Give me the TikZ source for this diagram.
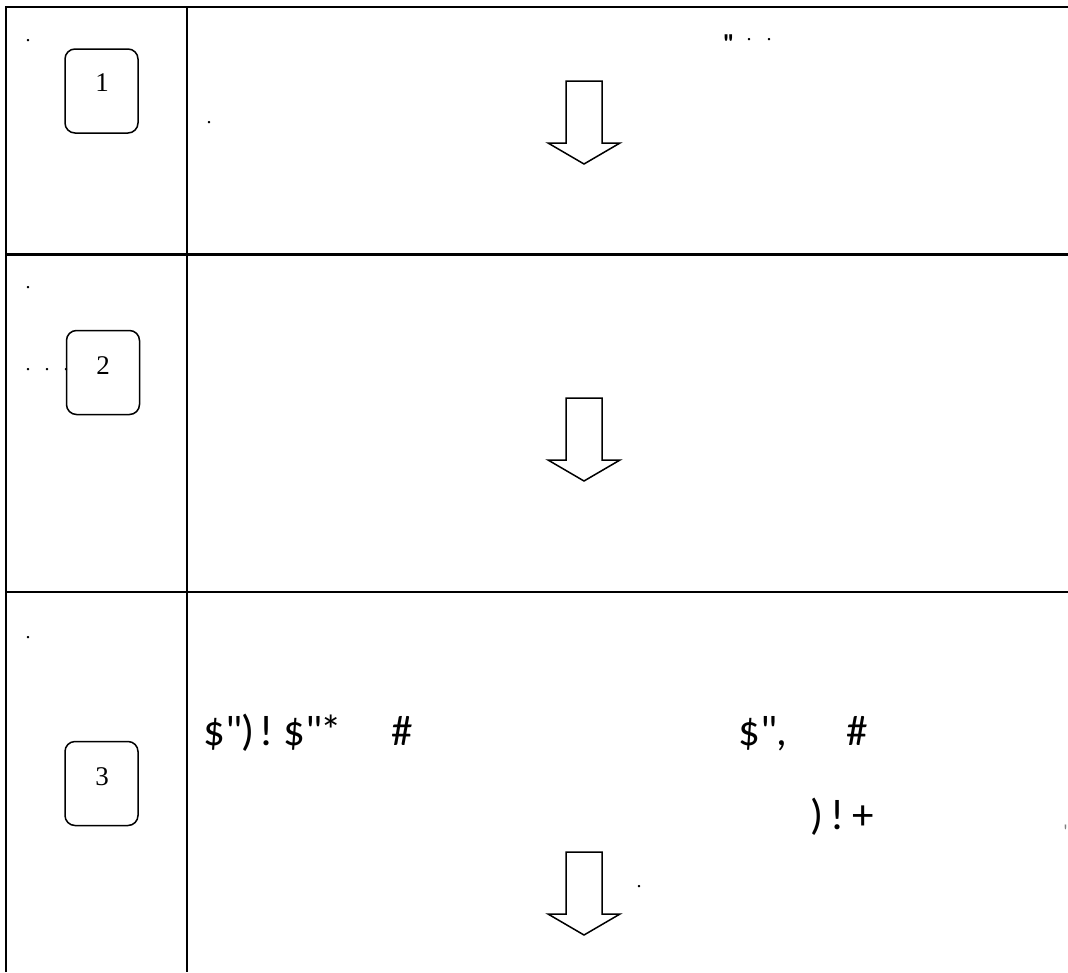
\documentclass[tikz,border=0pt]{standalone}
\usepackage{fontspec}
\setmainfont{Liberation Serif}
\newfontfamily\sansf{Carlito}
\begin{document}
\begin{tikzpicture}[x=1pt,y=-1pt,
  frame/.style={line width=2.2pt,black},
  numbox/.style={draw,line width=1.5pt,rounded corners=10pt,minimum width=73pt,minimum height=84pt,inner sep=0pt},
  digit/.style={inner sep=0pt,font=\fontsize{27}{27}\selectfont},
  dotmark/.style={inner sep=0pt,anchor=base,font=\fontsize{20}{20}\selectfont},
  glyph/.style={inner sep=0pt,anchor=base west,font=\sansf\fontsize{43}{43}\selectfont},
  bigarrow/.style={line width=1.5pt,black,fill=white,line join=miter}]
\useasboundingbox (0,0) rectangle (1068,972);
% grid lines
\draw[frame] (6,972) -- (6,7) -- (1068,7);
\draw[frame] (187,7) -- (187,972);
\draw[frame] (6,254.5) -- (1068,254.5);
\draw[frame] (6,592) -- (1068,592);
% numbered boxes
\node[numbox] (b1) at (101.5,91) {};
\node[digit] (d1) at (102,83) {1};
\node[numbox] (b2) at (103,372.5) {};
\node[digit] (d2) at (103,366) {2};
\node[numbox] (b3) at (101.5,783.5) {};
\node[digit] (d3) at (102,777) {3};
% block arrows
\foreach \dy in {0,317,771}{
  \draw[bigarrow] (566,81+\dy) -- (602,81+\dy) -- (602,143+\dy) -- (620,143+\dy)
     -- (584,164+\dy) -- (548,143+\dy) -- (566,143+\dy) -- cycle;
}
% dots
\node[dotmark] (p1) at (28,41) {.};
\node[dotmark] (p2) at (209,123) {.};
\node[dotmark] (p3) at (28,288) {.};
\node[dotmark] (p4) at (28,370) {.};
\node[dotmark] (p5) at (47,370) {.};
\node[dotmark] (p6) at (66,370) {.};
\node[dotmark] (p7) at (28,638) {.};
\node[dotmark] (p8) at (639,887) {.};
\node[dotmark] (p9) at (749,40) {.};
\node[dotmark] (p10) at (769,40) {.};
\node[inner sep=0pt,anchor=north west,font=\sansf\bfseries\fontsize{26}{26}\selectfont] (q1) at (723,35) {"};
% garbled text row 3
\node[glyph] (g1) at (203,745) {\$"};
\node[glyph] (g2) at (241,745) {)};
\node[glyph] (g3) at (259,745) {!};
\node[glyph] (g4) at (283,745) {\$"};
\node[glyph] (g5) at (320,745) {*};
\node[glyph] (g6) at (391,745) {\#};
\node[glyph] (g7) at (738,745) {\$"};
\node[glyph] (g8) at (776,745) {,};
\node[glyph] (g9) at (846,745) {\#};
\node[glyph] (g10) at (810,829) {)};
\node[glyph] (g11) at (830,829) {!};
\node[glyph] (g12) at (852,829) {+};
\node[inner sep=0pt,anchor=base east,text=gray,font=\sansf\fontsize{20}{20}\selectfont] (m1) at (1068,838) {'};
\end{tikzpicture}
\end{document}
